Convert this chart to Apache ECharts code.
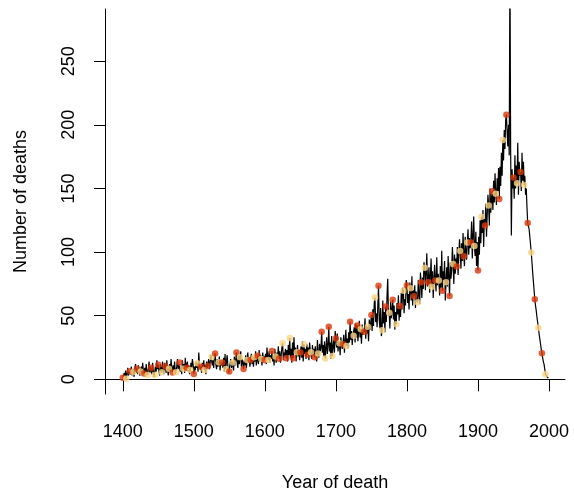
<!DOCTYPE html>
<html>
<head>
<meta charset="utf-8">
<script src="https://cdn.jsdelivr.net/npm/echarts@6/dist/echarts.min.js"></script>
<style>
  html, body { margin: 0; padding: 0; background: #fff; }
  #chart { width: 574px; height: 498px; }
</style>
</head>
<body>
<div id="chart"></div>
<script>
// deaths per year, 1400..1999, one row per decade
const firstYear = 1400;
const deaths = [
  1.3, 3, 5, 2, 7, 0.5, 4, 9, 3, 6,
  6.3, 4, 10, 3, 8, 5.8, 2, 9, 12, 5,
  8.3, 4, 11, 6, 3, 6.2, 10, 5, 13, 7,
  4.6, 9, 2, 12, 6, 3.4, 8, 14, 5, 10,
  9.1, 4, 13, 7, 2, 3.4, 10, 6, 15, 8,
  11.5, 6, 3, 12, 8, 5.5, 14, 7, 4, 13,
  10.3, 5, 15, 8, 3, 8.3, 12, 6, 16, 9,
  5.4, 11, 7, 14, 4, 5.5, 10, 16, 8, 12,
  13.3, 6, 10, 4, 15, 8.3, 12, 5, 17, 9,
  9.1, 14, 6, 11, 4, 7.3, 13, 9, 16, 12,
  4.3, 10, 7, 14, 9, 12.6, 6, 21, 11, 8,
  10, 5, 13, 8, 15, 7.3, 11, 4, 14, 9,
  10.5, 16, 8, 13, 19, 17.6, 11, 15, 9, 18,
  20.4, 12, 8, 16, 10, 13.4, 18, 7, 14, 11,
  13.3, 9, 17, 6, 20, 8.1, 14, 19, 10, 5,
  6.1, 12, 16, 9, 14, 13.3, 7, 18, 11, 15,
  21.2, 13, 9, 19, 12, 17.3, 22, 10, 16, 13,
  8.1, 15, 11, 19, 9, 15.2, 21, 13, 17, 10,
  15.2, 20, 12, 18, 10, 17.3, 14, 22, 11, 19,
  18.5, 12, 23, 14, 19, 16, 11, 21, 15, 18,
  15.2, 20, 12, 25, 17, 15.2, 22, 13, 19, 16,
  22.3, 14, 19, 11, 24, 18, 13, 21, 17, 26,
  16.2, 22, 13, 19, 25, 28.4, 15, 21, 18, 24,
  16.6, 23, 14, 27, 19, 32.5, 17, 24, 13, 29,
  16.6, 33, 20, 25, 14, 21.4, 27, 18, 23, 15,
  21.2, 26, 17, 30, 14, 27.5, 20, 24, 16, 28,
  19.3, 25, 15, 29, 22, 21.3, 16, 27, 19, 24,
  17.3, 26, 20, 14, 31, 20.4, 17, 28, 22, 25,
  37.4, 21, 27, 18, 30, 16.4, 24, 33, 20, 27,
  41.3, 22, 29, 16, 34, 18.3, 26, 31, 21, 38,
  32.2, 25, 36, 22, 30, 28.3, 19, 33, 27, 24,
  27.5, 35, 21, 30, 39, 26.2, 32, 24, 37, 29,
  45.2, 31, 38, 27, 35, 34.2, 41, 29, 44, 33,
  42.4, 30, 37, 46, 33, 39.3, 28, 43, 35, 40,
  37.4, 48, 32, 42, 36, 41.3, 30, 47, 39, 44,
  50.5, 38, 55, 42, 60, 64.4, 45, 52, 41, 58,
  73.5, 47, 40, 56, 34, 38.5, 62, 44, 53, 37,
  57.3, 45, 66, 79, 50, 52.3, 40, 61, 48, 55,
  62.5, 47, 58, 39, 53, 43.4, 60, 51, 66, 46,
  57.6, 49, 68, 55, 72, 69.6, 52, 63, 58, 78,
  73.8, 60, 67, 55, 76, 71.5, 62, 81, 58, 70,
  65.4, 74, 56, 69, 63, 60.5, 78, 66, 59, 84,
  76.4, 64, 80, 71, 92, 87.6, 70, 84, 99, 73,
  76.4, 88, 68, 81, 95, 72.7, 85, 64, 79, 90,
  77.7, 69, 96, 74, 83, 77.7, 66, 89, 72, 101,
  69.6, 85, 78, 93, 62, 76.4, 88, 73, 97, 80,
  65.5, 92, 79, 86, 104, 90.6, 75, 98, 83, 95,
  88.6, 104, 82, 97, 110, 100.9, 87, 107, 93, 115,
  96.7, 89, 112, 101, 94, 107.6, 118, 98, 111, 103,
  107.6, 124, 95, 113, 128, 104.7, 97, 116, 89, 108,
  85.6, 112, 98, 125, 107, 127.7, 115, 133, 104, 126,
  120.8, 138, 112, 129, 145, 136.6, 121, 150, 131, 142,
  147.9, 133, 156, 139, 162, 145.8, 137, 158, 148, 166,
  141.7, 167, 152, 178, 160, 188, 172, 196, 181, 204,
  208, 195, 183, 200, 176, 330, 180, 113, 165, 150,
  158.6, 142, 176, 150, 168, 154, 186, 145, 171, 160,
  163, 148, 178, 156, 171, 152.7, 160, 145, 150, 135,
  122.8, 124, 118, 112, 106, 99.7, 92, 84, 77, 70,
  63, 58, 54, 49, 45, 40.5, 36, 32, 28, 24,
  20.6, 17, 14, 12, 8, 4, 3, 2, 1.5, 1
];
const xTicks = [1400, 1500, 1600, 1700, 1800, 1900, 2000];
const yTicks = [0, 50, 100, 150, 200, 250];
const pointStep = 5;
const pointColors = ['#d9380c', '#fad686'];

const lineData = deaths.map((v, i) => [firstYear + i, v]);
const pointData = [];
for (let i = 0; i < deaths.length; i += pointStep) {
  pointData.push({
    value: [firstYear + i, deaths[i]],
    itemStyle: { color: pointColors[(i / pointStep) % 2] }
  });
}

const font = '"Liberation Sans", Arial, Helvetica, sans-serif';
const chart = echarts.init(document.getElementById('chart'), null, { renderer: 'canvas' });

const option = {
  animation: false,
  backgroundColor: '#fff',
  grid: { left: 105, right: 9, top: 9, bottom: 104, containLabel: false },
  xAxis: {
    type: 'value',
    min: 1375,
    max: 2022.5,
    name: 'Year of death',
    nameLocation: 'middle',
    nameGap: 80,
    nameTextStyle: { fontFamily: font, fontSize: 18, color: '#000' },
    splitLine: { show: false },
    axisLine: { lineStyle: { color: '#000', width: 1 } },
    axisTick: { length: 12, customValues: xTicks, lineStyle: { color: '#000' } },
    axisLabel: {
      customValues: xTicks, margin: 29, fontFamily: font, fontSize: 18, color: '#000',
      formatter: v => String(v)
    }
  },
  yAxis: {
    type: 'value',
    min: -11.5,
    max: 291,
    name: 'Number of deaths',
    nameLocation: 'middle',
    nameGap: 75,
    nameTextStyle: { fontFamily: font, fontSize: 18, color: '#000' },
    splitLine: { show: false },
    axisLine: { show: true, lineStyle: { color: '#000', width: 1 } },
    axisTick: { show: true, length: 11, customValues: yTicks, lineStyle: { color: '#000' } },
    axisLabel: {
      customValues: yTicks, rotate: 90, margin: 27, fontFamily: font, fontSize: 18, color: '#000',
      formatter: v => String(v)
    }
  },
  series: [
    {
      type: 'line',
      data: lineData,
      showSymbol: false,
      symbol: 'none',
      clip: true,
      lineStyle: { color: '#000', width: 1.2 },
      z: 2
    },
    {
      type: 'scatter',
      data: pointData,
      symbolSize: 6.5,
      clip: true,
      z: 3
    }
  ]
};

chart.setOption(option);
</script>
</body>
</html>
